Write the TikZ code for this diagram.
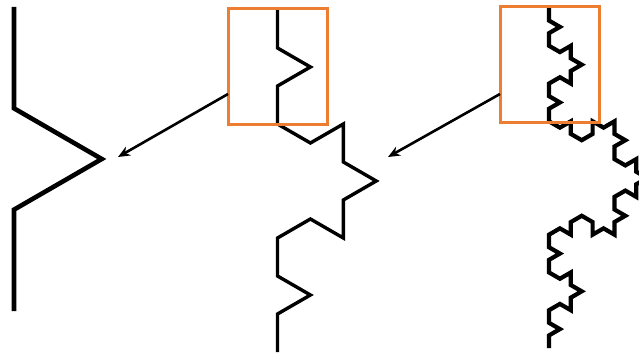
\documentclass[tikz,border=0pt]{standalone}
\usetikzlibrary{arrows.meta}
\definecolor{hlorange}{RGB}{237,125,49}
\newcount\kang
\def\kochpath{}
\def\koch#1#2{%
  \ifnum#1=0\relax
    \xdef\kochpath{\kochpath -- ++(\the\kang:#2)}%
  \else
    \edef\kochnext{\noexpand\kochfour{\the\numexpr#1-1\relax}{\the\dimexpr#2/3\relax}}%
    \kochnext
  \fi}
\def\kochfour#1#2{%
  \koch{#1}{#2}\global\advance\kang by 60\relax
  \koch{#1}{#2}\global\advance\kang by -120\relax
  \koch{#1}{#2}\global\advance\kang by 60\relax
  \koch{#1}{#2}}
% #1 start coordinate name, #2 order, #3 length, #4 style
\def\drawkoch#1#2#3#4{%
  \global\kang=-90\relax
  \gdef\kochpath{}%
  \koch{#2}{#3}%
  \edef\kochdo{\noexpand\draw[#4] (#1) \kochpath;}%
  \kochdo}
\tikzset{
  curve/.style={line join=miter, line cap=butt, black},
  hlbox/.style={draw=hlorange, line width=3pt, inner sep=0pt, fill=none},
  pointer/.style={line width=2.6pt, -{Stealth[length=12pt,width=10pt]}},
}
\begin{document}
\begin{tikzpicture}[x=1pt,y=1pt]
\useasboundingbox (0,0) rectangle (639,354);
\clip (0,0) rectangle (639,354);
% start points of the curves
\coordinate (c1) at (14,347);
\coordinate (c2) at (277.5,344);
\coordinate (c3) at (549,346);
\drawkoch{c1}{1}{304pt}{curve, line width=4.6pt}
\drawkoch{c2}{2}{342pt}{curve, line width=3.4pt}
\drawkoch{c3}{3}{340pt}{curve, line width=4.2pt}
% highlight boxes
\node[hlbox, minimum width=99pt, minimum height=115pt] (box1) at (277.5,287.5) {};
\node[hlbox, minimum width=99pt, minimum height=115pt] (box2) at (549.5,289.5) {};
% arrows
\coordinate (s1) at (228,260);
\coordinate (t1) at (118,197);
\coordinate (s2) at (500,260);
\coordinate (t2) at (388,197);
\draw[pointer] (s1) -- (t1);
\draw[pointer] (s2) -- (t2);
\end{tikzpicture}
\end{document}
